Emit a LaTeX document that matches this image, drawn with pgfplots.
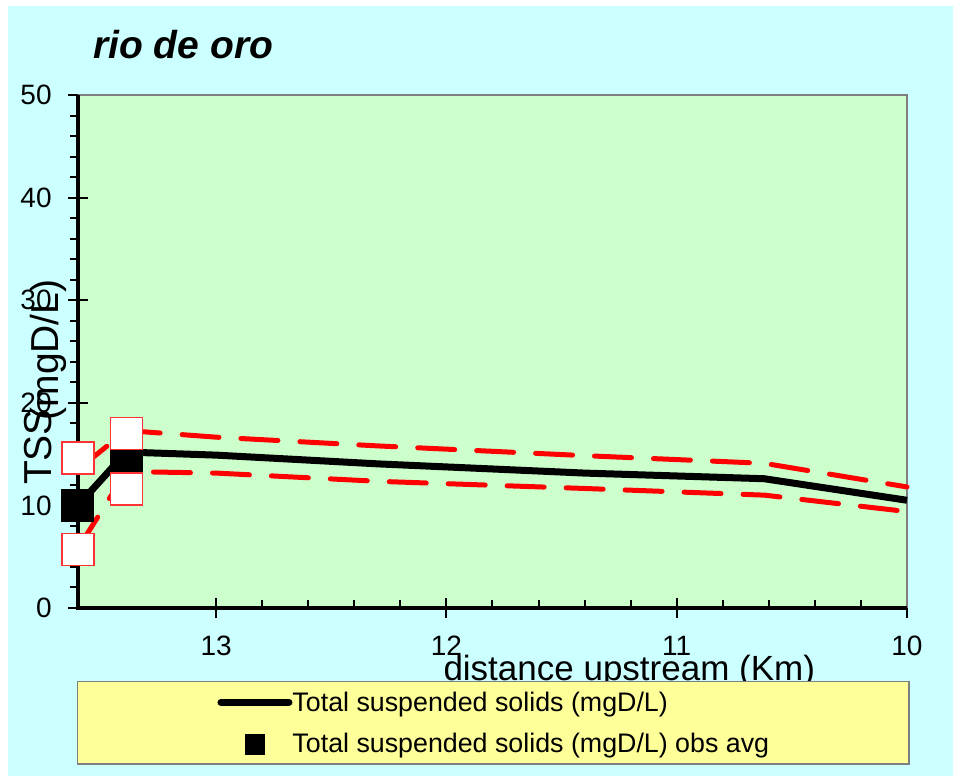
\documentclass[border=0pt]{standalone}
\usepackage{fontspec}
\setmainfont{Liberation Sans}
\usepackage{pgfplots}
\usepackage{pgfplotstable}
\pgfplotsset{compat=1.18}
\definecolor{bgcyan}{HTML}{CCFFFF}
\definecolor{plotgreen}{HTML}{CCFFCC}
\definecolor{legyellow}{HTML}{FFFF99}
\definecolor{boxgray}{HTML}{808080}
\definecolor{sqred}{HTML}{FF3333}

\pgfplotstableread{
x y
13.6 10.0
13.39 15.2
13.0 14.9
12.3 14.05
11.4 13.15
10.62 12.6
10.0 10.5
}\modeltab
\pgfplotstableread{
x y
13.6 13.5
13.39 17.3
13.0 16.65
12.3 15.8
11.4 14.85
10.62 14.1
10.0 11.8
}\uppertab
\pgfplotstableread{
x y
13.6 5.8
13.39 13.3
13.0 13.15
12.3 12.35
11.4 11.65
10.62 11.0
10.0 9.4
}\lowertab
\pgfplotstableread{
x y
13.6 10.0
13.39 14.3
}\obsavgtab
\pgfplotstableread{
x y
13.6 14.6
13.6 5.7
13.39 17.0
13.39 11.6
}\obsminmaxtab

\begin{document}
\begin{tikzpicture}
\useasboundingbox (0pt,0pt) rectangle (476.5pt,388pt);
\fill[white] (0pt,0pt) rectangle (476.5pt,388pt);
\fill[bgcyan] (4pt,0pt) rectangle (476.5pt,385pt);
\begin{axis}[
  at={(39pt,84pt)}, anchor=south west,
  scale only axis, width=414.5pt, height=256.5pt,
  x dir=reverse,
  xmin=10, xmax=13.6, ymin=0, ymax=50,
  xtick={10,11,12,13}, ytick={0,10,...,50},
  minor x tick num=4, minor y tick num=4,
  xtick align=inside, ytick align=outside, major tick length=5pt, minor tick length=4pt,
  xtick pos=left, ytick pos=left,
  extra x ticks={10,11,12,13}, extra x tick labels={},
  extra y ticks={0,10,20,30,40,50}, extra y tick labels={},
  extra x tick style={xtick align=outside, major tick length=5pt},
  extra y tick style={ytick align=inside, major tick length=5pt},
  tick style={black, line width=1pt},
  axis background/.style={fill=plotgreen},
  axis line style={draw=none},
  clip=false,
  /pgf/number format/assume math mode=true,
  tick label style={font=\fontsize{14}{16}\selectfont},
  xticklabel style={anchor=north, inner sep=0pt, yshift=-14pt},
  yticklabel style={anchor=east, inner sep=0pt, xshift=-8pt},
  title={rio de oro},
  title style={at={(axis description cs:0.018,1.0487)}, anchor=base west, inner sep=0pt, font=\fontsize{19.5}{22}\selectfont\bfseries\itshape},
  xlabel={distance upstream (Km)},
  xlabel style={at={(axis description cs:0.665,-0.1413)}, anchor=base, inner sep=0pt, font=\fontsize{17.5}{20}\selectfont},
  legend style={at={(axis description cs:0.501,-0.1423)}, anchor=north, draw=boxgray, line width=0.75pt, fill=legyellow,
    inner xsep=70pt, inner ysep=3.75pt, font=\fontsize{13.4}{15}\selectfont,
    column sep=0pt, row sep=7.5pt, nodes={inner sep=0pt, text height=11pt, text depth=2pt}},
  legend cell align=left,
]
\draw[boxgray, line width=1.2pt] (axis cs:13.6,50) -- (axis cs:10,50) -- (axis cs:10,0);
\draw[black, line width=1.6pt] (axis cs:13.6,50) -- (axis cs:13.6,0) -- (axis cs:10,0);
\addplot[forget plot, red, line width=2.5pt, line cap=round, dash pattern=on 18.5pt off 11pt] table[x=x,y=y] {\uppertab};
\addplot[forget plot, red, line width=2.5pt, line cap=round, dash pattern=on 18.5pt off 11pt] table[x=x,y=y] {\lowertab};
\addplot[black, line width=3.5pt, line join=round, no marks,
  legend image code/.code={\draw[black, line width=3.5pt, line cap=round] (0pt,0pt) -- (34pt,0pt);}] table[x=x,y=y] {\modeltab};
\addlegendentry{Total suspended solids (mgD/L)}
\addplot[only marks, mark=square*, mark size=8pt, mark options={fill=black, draw=black, line width=0.5pt},
  legend image code/.code={\path[draw=none] (0pt,0pt) -- (34pt,0pt); \fill[black] (12.25pt,-5.25pt) rectangle (21.75pt,4.25pt);}] table[x=x,y=y] {\obsavgtab};
\addlegendentry{Total suspended solids (mgD/L) obs avg}
\addplot[forget plot, only marks, mark=square*, mark size=8pt, mark options={fill=white, draw=sqred, line width=0.75pt}] table[x=x,y=y] {\obsminmaxtab};
\end{axis}
\node[rotate=90, inner sep=0pt, font=\fontsize{19.5}{22}\selectfont] at (19pt,164.5pt) {TSS};
\node[rotate=90, inner sep=0pt, font=\fontsize{19.5}{22}\selectfont] at (24pt,213pt) {(mgD/L)};
\end{tikzpicture}
\end{document}
